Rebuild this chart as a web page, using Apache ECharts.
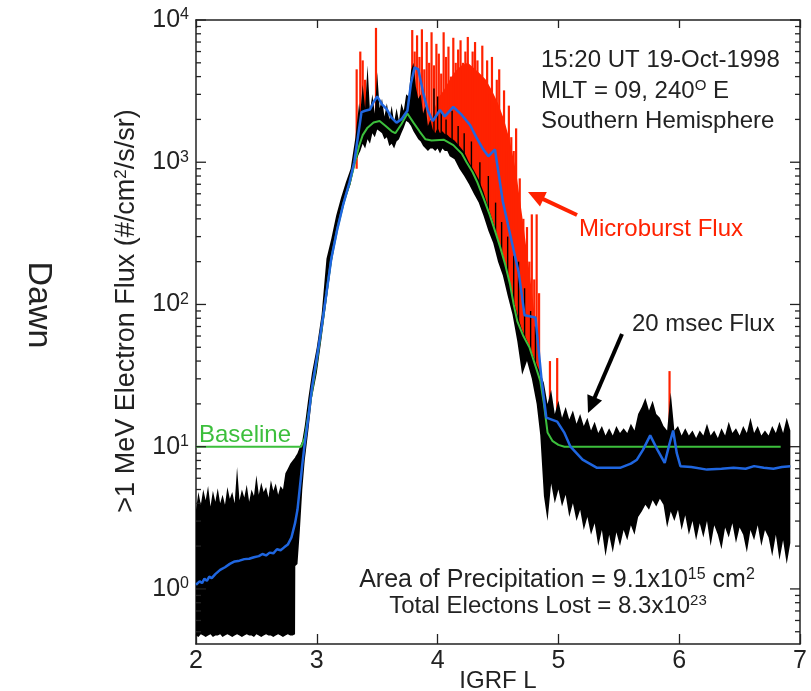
<!DOCTYPE html>
<html lang="en">
<head>
<meta charset="UTF-8">
<title>Dawn - >1 MeV electron flux</title>
<script src="https://cdn.jsdelivr.net/npm/echarts@6/dist/echarts.min.js"></script>
<style>
  html, body { margin: 0; padding: 0; background: #fff; }
  #chart { width: 811px; height: 691px; }
</style>
</head>
<body>
<div id="chart"></div>
<script>
// tick values
var yMajor = [1, 10, 100, 1000, 10000];
var yMinor = [0.5, 0.6, 0.7, 0.8, 0.9, 2, 3, 4, 5, 6, 7, 8, 9, 20, 30, 40, 50, 60, 70, 80, 90,
  200, 300, 400, 500, 600, 700, 800, 900, 2000, 3000, 4000, 5000, 6000, 7000, 8000, 9000];

// 20 msec flux envelope: [L, low, high]
var blackBand = [
  [2.00,0.47,3.6],[2.02,0.46,4.8],[2.04,0.48,3.9],[2.06,0.47,5.0],[2.08,0.46,4.2],[2.10,0.47,5.3],
  [2.12,0.48,3.8],[2.14,0.46,4.9],[2.16,0.47,4.1],[2.18,0.47,5.1],[2.20,0.48,4.0],[2.22,0.46,4.6],
  [2.24,0.47,3.9],[2.26,0.48,5.2],[2.28,0.47,4.3],[2.30,0.46,4.8],[2.32,0.47,4.0],[2.34,0.48,7.2],
  [2.36,0.47,4.2],[2.38,0.46,5.0],[2.40,0.47,4.4],[2.42,0.48,5.4],[2.44,0.47,4.1],[2.46,0.47,5.0],
  [2.48,0.46,4.5],[2.50,0.48,6.3],[2.52,0.47,4.6],[2.54,0.46,5.6],[2.56,0.47,4.8],[2.58,0.48,5.2],
  [2.60,0.47,4.4],[2.62,0.47,5.8],[2.64,0.46,4.9],[2.66,0.47,5.5],[2.68,0.48,4.6],[2.70,0.47,5.3],
  [2.72,0.46,5.0],[2.74,0.47,6.5],[2.76,0.48,7.0],[2.78,0.47,7.6],[2.80,0.47,8.0],[2.82,0.48,8.4],
  [2.822,1.45,8.5],[2.84,1.5,9],[2.86,2.6,10],[2.88,5,11],[2.90,8,14],[2.93,13,22],[2.96,22,33],
  [3.00,33,50],[3.04,58,85],[3.08,105,210],[3.12,190,290],[3.16,300,420],[3.20,420,560],
  [3.24,560,720],[3.28,700,900],[3.32,1000,1500],[3.35,1150,2600],
  [3.36,1200,2200],[3.38,1350,3500],[3.40,1250,2400],[3.42,1450,4800],[3.44,1350,2300],[3.46,1600,3000],
  [3.48,1500,2200],[3.50,1700,4300],[3.52,1650,2400],[3.54,1600,2800],[3.56,1450,2100],[3.58,1500,2600],
  [3.60,1300,2000],[3.62,1350,2500],[3.64,1250,1900],[3.66,1400,2400],[3.68,1450,1950],[3.70,1600,2600],
  [3.72,1750,2300],[3.74,1950,3000],[3.76,1900,2900],[3.78,1800,4400],[3.80,1650,5000],[3.82,1550,3400],
  [3.84,1450,2800],[3.86,1400,3000],[3.88,1300,2200],[3.90,1250,2500],[3.92,1200,1800],[3.94,1250,2000],
  [3.96,1250,1700],[3.98,1200,1600],[4.00,1250,1750],[4.02,1150,1600],[4.04,1250,1650],[4.06,1200,1580],
  [4.08,1200,1560],[4.10,1100,1500],[4.14,1050,1420],[4.18,900,1300],[4.22,800,1180],[4.26,700,1000],
  [4.30,600,880],[4.34,520,760],[4.38,420,620],[4.42,330,480],[4.46,270,380],[4.50,200,290],
  [4.54,160,225],[4.58,115,165],[4.62,85,115],[4.66,55,85],[4.70,32,66],[4.74,40,56],
  [4.78,30,46],[4.82,20,38],[4.85,12,33],
  [4.88,4.5,28],[4.91,3.0,20],[4.94,5.5,25],[4.97,4.0,17],[5.00,5.0,21],[5.03,3.8,16],[5.06,4.6,19],
  [5.09,3.2,15.5],[5.12,4.0,18],[5.15,3.0,14.5],[5.18,3.6,17],[5.21,2.6,14],[5.24,3.2,16],[5.27,2.4,13],
  [5.30,2.9,15],[5.33,2.0,12.5],[5.36,2.6,14],[5.39,1.7,12],[5.42,2.4,13.5],[5.45,1.8,12],[5.48,2.5,14],
  [5.51,2.0,12.5],[5.54,2.6,13.5],[5.57,2.2,12.5],[5.60,2.8,14.5],[5.63,2.4,13],[5.66,3.2,17],[5.69,3.5,19],
  [5.72,3.9,22],[5.75,3.6,18],[5.78,4.2,21],[5.81,3.8,17],[5.84,4.3,16],[5.87,3.9,14],[5.90,2.7,13],
  [5.93,3.5,24],[5.96,3.0,13],[5.99,3.6,14],[6.02,2.6,12],[6.05,3.3,13.5],[6.08,2.4,12],[6.11,3.0,13],
  [6.14,2.2,11.5],[6.17,2.9,13],[6.20,2.3,12],[6.23,3.0,14.5],[6.26,2.0,12],[6.29,2.8,13],[6.32,2.4,11.5],
  [6.35,1.9,13.5],[6.38,2.7,12],[6.41,2.3,15],[6.44,2.9,12.5],[6.47,2.1,13.5],[6.50,2.7,12],[6.53,2.4,14],
  [6.56,1.8,12.5],[6.59,2.6,16],[6.62,2.2,12.5],[6.65,2.8,14],[6.68,2.0,12],[6.71,2.6,13],[6.74,2.3,12],
  [6.77,1.7,14],[6.80,2.4,12.5],[6.83,1.6,15],[6.86,2.2,12.5],[6.89,1.5,16],[6.92,2.1,13]
];
// single 20 msec samples poking into the microburst band: [L, low, high]
var blackSpikes = [
  [3.97,1400,3300],[4.00,1400,2900],[4.03,1400,2300],[4.07,1350,2000],[4.12,1300,2300],[4.17,1150,1800],
  [4.22,1000,1600],[4.28,850,1400],[4.35,650,1000],[4.42,420,800],[4.48,280,520],[4.53,200,380],
  [4.58,150,300],[4.63,100,220],[4.67,75,200],[4.72,55,130],[4.77,45,90],[4.81,35,70]
];

// microburst flux: solid part and spikes, [L, low, high]
var redFill = [
  [3.95,1420,2000],[4.00,1440,2800],[4.05,1440,3200],[4.10,1380,3800],[4.15,1280,4400],[4.20,1150,4800],
  [4.25,980,5000],[4.30,820,4600],[4.35,680,4200],[4.40,520,3800],[4.45,380,3200],[4.50,280,2600],
  [4.55,200,2000],[4.60,138,1400],[4.65,85,850],[4.70,62,420],[4.75,50,200],[4.80,40,90],[4.85,29,38]
];
var redSpikes = [
  [3.33,900,4500],[3.36,1300,6000],[3.38,1400,5200],[3.40,1500,3800],[3.49,1800,8800],
  [3.79,1900,8500],[3.81,1800,6000],[3.83,1700,7800],[3.85,1650,5500],[3.87,1550,8600],[3.89,1500,4500],
  [3.91,1450,7000],[3.93,1450,5000],[3.95,1450,8200],[3.97,1450,4800],[3.99,1450,6800],[4.01,1450,5800],
  [4.03,1450,4200],[4.05,1450,8200],[4.07,1420,5500],[4.09,1400,6500],[4.11,1380,4000],[4.13,1320,7500],
  [4.15,1280,5000],[4.17,1230,6200],[4.19,1180,7200],[4.21,1100,5000],[4.23,1050,6000],[4.25,980,7600],
  [4.27,920,4500],[4.29,850,6000],[4.31,780,7000],[4.33,720,5200],[4.35,650,4000],[4.37,600,6600],
  [4.39,540,3500],[4.41,480,5200],[4.43,430,3000],[4.45,380,5500],[4.47,340,2600],[4.49,300,3800],
  [4.51,260,4500],[4.53,230,2000],[4.55,200,3200],[4.57,175,1200],[4.59,150,2500],[4.61,128,1500],
  [4.63,110,1200],[4.65,85,1730],[4.67,72,600],[4.68,68,770],[4.71,58,400],[4.74,52,350],[4.76,50,200],
  [4.78,44,430],[4.80,40,150],[4.82,35,430],[4.84,30,120],[4.93,11,40],[4.99,10.5,42],[5.92,12,34]
];
var redTail = [[6.84,10],[6.92,10]];

// baseline and 6 sec flux: [L, flux]
var baseline = [
  [2.0,10],[2.87,10],[2.90,11.5],[2.94,19],[3.00,40],[3.04,68],[3.08,120],[3.12,210],[3.17,340],[3.22,510],
  [3.27,700],[3.31,950],[3.35,1300],[3.38,1550],[3.42,1750],[3.47,1900],[3.52,1950],[3.57,1800],[3.62,1650],
  [3.65,1600],[3.70,1850],[3.75,2200],[3.80,1900],[3.85,1650],[3.90,1450],[3.95,1420],[4.05,1440],[4.13,1320],
  [4.20,1150],[4.24,1000],[4.29,850],[4.33,720],[4.38,560],[4.43,430],[4.48,320],[4.52,250],[4.56,190],
  [4.60,138],[4.63,100],[4.66,76],[4.71,60],[4.76,50],[4.81,37],[4.85,29],[4.88,20],[4.91,12.6],[4.95,11],
  [5.0,10.3],[5.05,10],[6.84,10]
];
var sixSec = [
  [2.00,1.07],[2.03,1.13],[2.05,1.10],[2.07,1.18],[2.09,1.14],[2.11,1.22],[2.13,1.19],[2.16,1.27],[2.20,1.36],
  [2.24,1.42],[2.28,1.50],[2.32,1.56],[2.36,1.58],[2.40,1.62],[2.44,1.63],[2.48,1.67],[2.52,1.70],[2.55,1.76],
  [2.58,1.72],[2.61,1.80],[2.64,1.78],[2.67,1.90],[2.70,1.87],[2.73,1.96],[2.76,2.05],[2.79,2.3],[2.82,2.9],
  [2.84,3.6],[2.86,5.2],[2.88,7.5],[2.90,10.5],[2.93,16],[2.96,26],[3.00,42],[3.04,70],[3.08,120],[3.12,210],
  [3.17,340],[3.22,510],[3.27,720],[3.31,1000],[3.34,1500],[3.37,2250],[3.40,2300],[3.44,2350],[3.47,2650],
  [3.50,2900],[3.54,2550],[3.58,2350],[3.62,2050],[3.66,1900],[3.70,2000],[3.75,2300],[3.78,3600],[3.81,4650],
  [3.84,4500],[3.88,3100],[3.92,2300],[3.96,1950],[4.02,2330],[4.06,2100],[4.13,2450],[4.20,2150],[4.27,1820],
  [4.32,1500],[4.37,1260],[4.42,1100],[4.475,1230],[4.54,530],[4.62,262],[4.67,170],[4.72,84],[4.81,81],
  [4.86,30],[4.90,16],[4.99,15],[5.05,12.5],[5.10,10],[5.20,8.1],[5.32,7.1],[5.51,7.1],[5.60,7.6],[5.65,8.1],
  [5.70,9.5],[5.76,12],[5.82,9.5],[5.88,7.7],[5.92,10.5],[5.95,13],[5.98,9],[6.01,7.3],[6.10,7.2],[6.23,6.9],
  [6.35,7.0],[6.45,7.1],[6.55,7.0],[6.62,7.3],[6.70,7.1],[6.78,7.0],[6.85,7.2],[6.92,7.3]
];

var FONT = '"Liberation Sans", Arial, Helvetica, sans-serif';
var INK = '#222';
var RED = '#ff2200', GREEN = '#3cbf3c', BLUE = '#1f66e0';

// one polygon between the low and high edges of a band
function bandRender(rows, color) {
  return function (params, api) {
    var pts = [];
    for (var i = 0; i < rows.length; i++) pts.push(api.coord([rows[i][0], rows[i][2]]));
    for (var j = rows.length - 1; j >= 0; j--) pts.push(api.coord([rows[j][0], rows[j][1]]));
    return { type: 'polygon', shape: { points: pts }, style: { fill: color } };
  };
}

function spikeRender(color, width) {
  return function (params, api) {
    var a = api.coord([api.value(0), api.value(1)]);
    var b = api.coord([api.value(0), api.value(2)]);
    return { type: 'line', shape: { x1: a[0], y1: a[1], x2: b[0], y2: b[1] },
      style: { stroke: color, lineWidth: width } };
  };
}

// inward ticks on both y axes
function tickRender(params, api) {
  var v = api.value(1), len = api.value(2);
  var l = api.coord([2, v]), r = api.coord([7, v]);
  var st = { stroke: INK, lineWidth: 1.3 };
  return { type: 'group', children: [
    { type: 'line', shape: { x1: l[0], y1: l[1], x2: l[0] + len, y2: l[1] }, style: st },
    { type: 'line', shape: { x1: r[0], y1: r[1], x2: r[0] - len, y2: r[1] }, style: st }
  ] };
}
var yTickRows = yMajor.map(function (v) { return [2, v, 10]; })
  .concat(yMinor.map(function (v) { return [2, v, 5]; }));

function arrow(x1, y1, x2, y2, color) {
  var dx = x2 - x1, dy = y2 - y1, len = Math.sqrt(dx * dx + dy * dy);
  var ux = dx / len, uy = dy / len, hl = 17, hw = 8;
  var bx = x2 - ux * hl, by = y2 - uy * hl;
  return [
    { type: 'line', shape: { x1: x1, y1: y1, x2: bx + ux * 2, y2: by + uy * 2 },
      style: { stroke: color, lineWidth: 4 } },
    { type: 'polygon', shape: { points: [[x2, y2], [bx - uy * hw, by + ux * hw], [bx + uy * hw, by - ux * hw]] },
      style: { fill: color } }
  ];
}

function label(x, y, rich, text, opts) {
  opts = opts || {};
  return {
    type: 'text', x: x, y: y, rotation: opts.rotation || 0,
    style: {
      text: text, rich: rich, fill: opts.color || INK,
      font: (opts.size || 24) + 'px ' + FONT,
      align: opts.align || 'left', verticalAlign: 'middle'
    }
  };
}

function richSet(size, color) {
  return {
    t: { fontSize: size, fontFamily: FONT, color: color },
    s: { fontSize: Math.round(size * 0.64), fontFamily: FONT, color: color, padding: [0, 0, Math.round(size * 0.4), 0] }
  };
}

function logAxis(pos, showLabel) {
  return {
    type: 'log', logBase: 10, min: 0.41, max: 10000, position: pos,
    axisLine: { show: true, lineStyle: { color: INK, width: 1.5 } },
    axisTick: { show: false },
    axisLabel: showLabel ? {
      show: true, customValues: yMajor, margin: 7,
      formatter: function (v) { return '{t|10}{s|' + Math.round(Math.log10(v)) + '}'; },
      rich: richSet(25, INK)
    } : { show: false },
    splitLine: { show: false }, minorTick: { show: false }
  };
}

function xAxisDef(pos, showLabel) {
  return {
    type: 'value', min: 2, max: 7, interval: 1, position: pos,
    axisLine: { show: true, lineStyle: { color: INK, width: 1.5 } },
    axisTick: { show: true, inside: true, length: pos === 'top' ? 8 : 10, lineStyle: { color: INK, width: 1.3 } },
    axisLabel: showLabel ? { show: true, fontSize: 25, fontFamily: FONT, color: INK, margin: 5 } : { show: false },
    splitLine: { show: false },
    name: showLabel ? 'IGRF L' : '', nameLocation: 'middle', nameGap: 25, nameMoveOverlap: false,
    nameTextStyle: { fontSize: 24, fontFamily: FONT, color: INK }
  };
}

var chart = echarts.init(document.getElementById('chart'), null, { renderer: 'canvas' });

var graphics = [
  label(38, 305, null, 'Dawn', { size: 34, rotation: -Math.PI / 2, align: 'center' }),
  label(127, 311, richSet(27, INK), '{t|>1 MeV Electron Flux (#/cm}{s|2}{t|/s/sr)}', { size: 27, rotation: Math.PI / 2, align: 'center' }),
  label(541, 60, null, '15:20 UT 19-Oct-1998'),
  label(541, 91, richSet(24, INK), '{t|MLT = 09, 240}{s|O}{t| E}'),
  label(541, 121, null, 'Southern Hemisphere'),
  label(579, 229, null, 'Microburst Flux', { color: RED }),
  label(632, 324, null, '20 msec Flux'),
  label(199, 435, null, 'Baseline', { color: GREEN }),
  label(673, 486, null, '6 sec Flux', { color: BLUE, size: 25 }),
  label(557, 580, richSet(25, INK), '{t|Area of Precipitation = 9.1x10}{s|15}{t| cm}{s|2}', { align: 'center' }),
  label(548, 606, richSet(24, INK), '{t|Total Electons Lost = 8.3x10}{s|23}', { align: 'center' })
].concat(arrow(577, 215, 528, 192, RED)).concat(arrow(622, 334, 588, 413, '#000'));

chart.setOption({
  animation: false,
  backgroundColor: '#fff',
  grid: { left: 196, right: 11, top: 20, bottom: 47, containLabel: false, outerBoundsMode: 'none' },
  xAxis: [xAxisDef('bottom', true), xAxisDef('top', false)],
  yAxis: [logAxis('left', true), logAxis('right', false)],
  series: [
    { name: 'Microburst fill', type: 'custom', renderItem: bandRender(redFill, RED),
      data: [[redFill[0][0], redFill[0][1]]], z: 1, silent: true },
    { name: 'Microburst Flux', type: 'custom', renderItem: spikeRender(RED, 2.2), data: redSpikes, z: 1, silent: true },
    { name: 'Microburst tail', type: 'line', data: redTail, showSymbol: false, z: 1,
      lineStyle: { color: RED, width: 2 } },
    { name: '20 msec Flux', type: 'custom', renderItem: bandRender(blackBand, '#000'),
      data: [[blackBand[0][0], blackBand[0][1]]], z: 2, silent: true },
    { name: '20 msec spikes', type: 'custom', renderItem: spikeRender('#000', 1.4), data: blackSpikes, z: 2, silent: true },
    { name: 'Baseline', type: 'line', data: baseline, showSymbol: false, z: 3,
      lineStyle: { color: GREEN, width: 2 } },
    { name: '6 sec Flux', type: 'line', data: sixSec, showSymbol: false, z: 4,
      lineStyle: { color: BLUE, width: 2.5 } },
    { name: 'y ticks', type: 'custom', renderItem: tickRender, data: yTickRows, z: 5, silent: true }
  ],
  graphic: graphics
});
</script>
</body>
</html>
